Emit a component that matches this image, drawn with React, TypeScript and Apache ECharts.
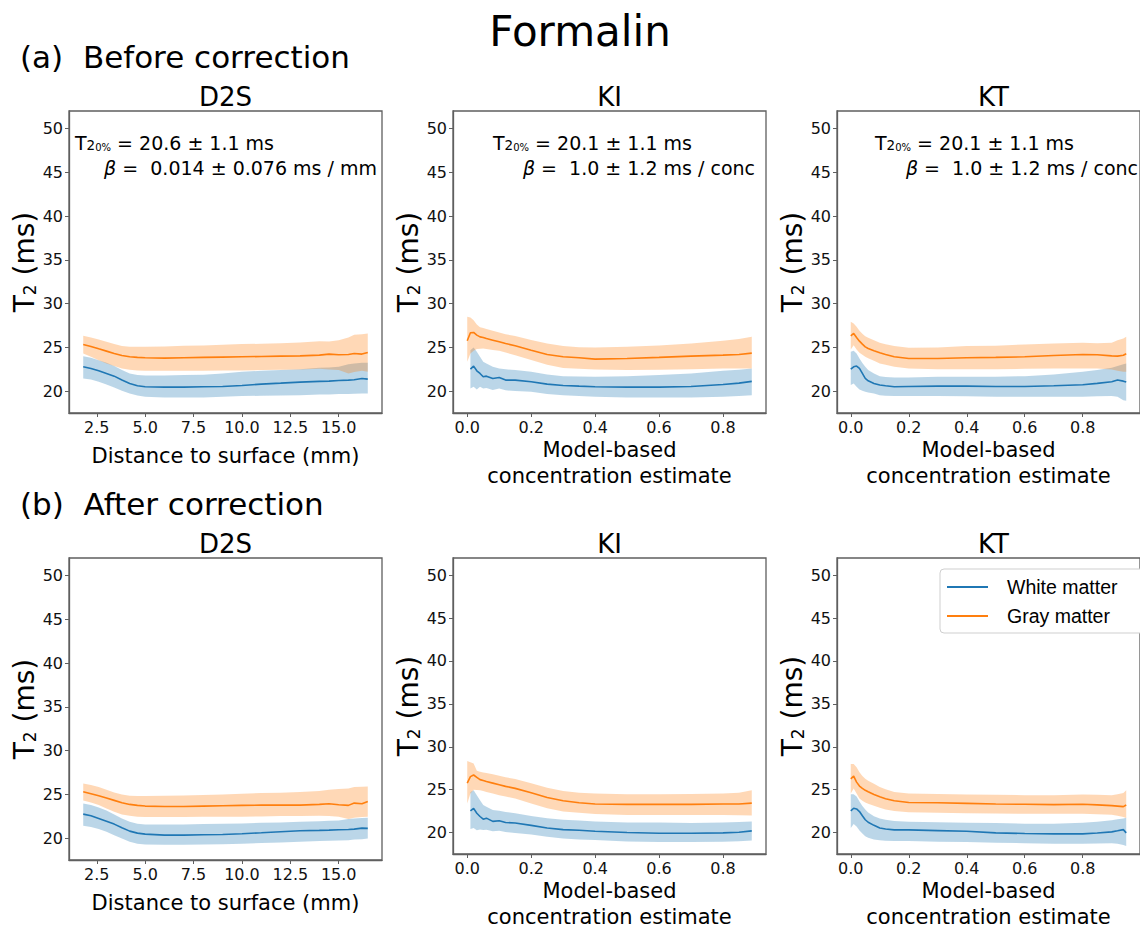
import React, { useEffect, useRef } from "react";
import * as echarts from "echarts";

const FONT = "DejaVu Sans";
const WM_COLOR = "#1f77b4";
const GM_COLOR = "#ff7f0e";
const WM_BAND = "rgba(31,119,180,0.3)";
const GM_BAND = "rgba(255,127,14,0.3)";

// ---------- x positions ----------
const D2S_X = [1.8, 2.2, 2.6, 3.0, 3.4, 3.8, 4.2, 4.6, 5.0, 6.0, 7.0, 8.0, 9.0, 10.0, 11.0, 12.0, 13.0, 14.0, 14.5, 15.0, 15.5, 15.8, 16.2, 16.5];
const KI_X = [0, 0.01, 0.02, 0.03, 0.04, 0.05, 0.06, 0.08, 0.1, 0.12, 0.15, 0.2, 0.25, 0.3, 0.35, 0.4, 0.5, 0.6, 0.7, 0.8, 0.85, 0.89];
const KT_X = [0, 0.01, 0.02, 0.03, 0.04, 0.05, 0.06, 0.08, 0.1, 0.12, 0.15, 0.2, 0.3, 0.4, 0.5, 0.6, 0.7, 0.8, 0.85, 0.9, 0.92, 0.94, 0.95];

// ---------- (a) Before correction ----------
const A_D2S_GM_MEAN = [25.33, 25.10, 24.83, 24.57, 24.30, 24.07, 23.92, 23.85, 23.81, 23.77, 23.81, 23.85, 23.88, 23.92, 23.96, 24.00, 24.03, 24.11, 24.23, 24.15, 24.19, 24.30, 24.23, 24.42];
const A_D2S_GM_HI = [26.32, 26.13, 25.90, 25.63, 25.37, 25.14, 25.06, 25.06, 25.06, 25.10, 25.18, 25.22, 25.29, 25.37, 25.41, 25.48, 25.56, 25.71, 25.67, 25.82, 26.13, 26.43, 26.51, 26.59];
const A_D2S_GM_LO = [24.30, 23.92, 23.54, 23.16, 22.86, 22.59, 22.44, 22.36, 22.32, 22.32, 22.32, 22.32, 22.36, 22.36, 22.40, 22.44, 22.48, 22.55, 22.48, 22.40, 22.02, 22.17, 22.32, 22.21];
const A_D2S_WM_MEAN = [22.78, 22.59, 22.32, 22.02, 21.71, 21.26, 20.88, 20.61, 20.50, 20.46, 20.46, 20.50, 20.53, 20.65, 20.80, 20.91, 21.03, 21.11, 21.14, 21.22, 21.26, 21.30, 21.45, 21.37];
const A_D2S_WM_HI = [23.99, 23.81, 23.54, 23.24, 22.86, 22.40, 22.02, 21.83, 21.79, 21.79, 21.83, 21.87, 22.02, 22.21, 22.32, 22.40, 22.51, 22.67, 22.70, 22.78, 23.08, 23.16, 23.24, 23.24];
const A_D2S_WM_LO = [21.45, 21.33, 21.07, 20.76, 20.42, 20.04, 19.74, 19.51, 19.36, 19.28, 19.28, 19.28, 19.36, 19.43, 19.47, 19.51, 19.54, 19.62, 19.62, 19.66, 19.66, 19.70, 19.74, 19.74];

const A_KI_GM_MEAN = [25.75, 26.66, 26.70, 26.40, 26.20, 26.13, 26.00, 25.82, 25.63, 25.44, 25.18, 24.68, 24.19, 23.92, 23.81, 23.66, 23.73, 23.85, 24.00, 24.11, 24.19, 24.34];
const A_KI_GM_HI = [28.50, 28.40, 28.10, 27.60, 27.30, 27.20, 27.10, 26.90, 26.70, 26.50, 26.30, 25.85, 25.45, 25.15, 25.00, 24.97, 25.06, 25.22, 25.44, 25.75, 25.95, 26.20];
const A_KI_GM_LO = [23.35, 24.30, 24.60, 24.80, 24.85, 24.87, 24.80, 24.70, 24.60, 24.40, 24.10, 23.55, 23.00, 22.65, 22.55, 22.48, 22.40, 22.45, 22.51, 22.59, 22.59, 22.59];
const A_KI_WM_MEAN = [null, 22.51, 22.86, 22.32, 22.02, 21.64, 21.71, 21.45, 21.56, 21.26, 21.26, 21.07, 20.80, 20.65, 20.57, 20.50, 20.46, 20.46, 20.53, 20.76, 20.91, 21.11];
const A_KI_WM_HI = [null, 24.68, 24.99, 24.49, 23.92, 23.35, 23.16, 22.78, 22.59, 22.50, 22.40, 22.21, 21.90, 21.71, 21.66, 21.64, 21.70, 21.83, 22.02, 22.32, 22.45, 22.59];
const A_KI_WM_LO = [null, 20.31, 20.50, 20.19, 20.50, 20.31, 20.35, 20.12, 20.30, 20.10, 20.00, 19.93, 19.66, 19.54, 19.45, 19.36, 19.28, 19.28, 19.28, 19.36, 19.45, 19.54];

const A_KT_GM_MEAN = [26.32, 26.59, 26.13, 25.71, 25.37, 25.06, 24.87, 24.61, 24.38, 24.19, 23.92, 23.73, 23.73, 23.81, 23.85, 23.92, 24.07, 24.19, 24.15, 24.03, 24.00, 24.10, 24.26];
const A_KT_GM_HI = [27.92, 27.73, 27.35, 26.89, 26.55, 26.28, 26.10, 25.82, 25.52, 25.35, 25.14, 24.95, 24.99, 25.14, 25.18, 25.33, 25.44, 25.52, 25.48, 25.52, 25.82, 26.00, 26.20];
const A_KT_GM_LO = [24.76, 25.25, 24.76, 24.38, 24.15, 23.92, 23.75, 23.46, 23.16, 23.00, 22.78, 22.59, 22.51, 22.51, 22.51, 22.55, 22.59, 22.59, 22.59, 22.48, 22.32, 22.21, 22.21];
const A_KT_WM_MEAN = [22.51, 22.78, 22.86, 22.59, 22.02, 21.45, 21.18, 20.88, 20.69, 20.61, 20.50, 20.53, 20.57, 20.57, 20.53, 20.53, 20.61, 20.72, 20.88, 21.07, 21.26, 21.14, 21.03];
const A_KT_WM_HI = [24.49, 24.61, 24.30, 23.73, 23.20, 22.78, 22.40, 22.02, 21.71, 21.62, 21.56, 21.56, 21.64, 21.64, 21.64, 21.71, 21.90, 22.21, 22.40, 22.67, 22.86, 23.08, 23.16];
const A_KT_WM_LO = [20.69, 20.88, 20.50, 20.19, 20.05, 19.93, 19.85, 19.74, 19.54, 19.48, 19.43, 19.43, 19.43, 19.40, 19.36, 19.36, 19.36, 19.36, 19.40, 19.43, 19.36, 18.97, 18.90];

// ---------- (b) After correction ----------
const B_D2S_GM_MEAN = [25.30, 25.07, 24.84, 24.58, 24.31, 24.04, 23.85, 23.74, 23.66, 23.62, 23.62, 23.66, 23.70, 23.74, 23.77, 23.77, 23.77, 23.85, 23.93, 23.81, 23.74, 24.00, 23.93, 24.19];
const B_D2S_GM_HI = [26.25, 26.06, 25.83, 25.53, 25.22, 24.99, 24.84, 24.80, 24.80, 24.84, 24.88, 24.92, 24.99, 25.07, 25.15, 25.18, 25.26, 25.38, 25.53, 25.60, 25.68, 25.83, 25.87, 25.91];
const B_D2S_GM_LO = [24.31, 24.08, 23.77, 23.39, 23.01, 22.71, 22.55, 22.44, 22.40, 22.40, 22.40, 22.44, 22.44, 22.44, 22.48, 22.52, 22.52, 22.55, 22.52, 22.44, 22.17, 22.33, 22.40, 22.44];
const B_D2S_WM_MEAN = [22.74, 22.55, 22.25, 21.94, 21.60, 21.18, 20.80, 20.57, 20.46, 20.34, 20.34, 20.38, 20.42, 20.50, 20.61, 20.73, 20.84, 20.88, 20.91, 20.95, 20.99, 21.03, 21.14, 21.11];
const B_D2S_WM_HI = [23.96, 23.77, 23.51, 23.16, 22.71, 22.25, 21.87, 21.64, 21.56, 21.56, 21.56, 21.60, 21.64, 21.68, 21.75, 21.79, 21.87, 21.94, 21.98, 22.02, 22.17, 22.25, 22.29, 22.33];
const B_D2S_WM_LO = [21.41, 21.26, 21.03, 20.73, 20.34, 19.96, 19.58, 19.35, 19.27, 19.24, 19.24, 19.27, 19.31, 19.35, 19.43, 19.50, 19.58, 19.66, 19.69, 19.73, 19.77, 19.85, 19.88, 19.96];

const B_KI_GM_MEAN = [25.76, 26.52, 26.71, 26.44, 26.17, 26.06, 25.95, 25.76, 25.57, 25.38, 25.15, 24.65, 24.08, 23.70, 23.47, 23.32, 23.28, 23.28, 23.28, 23.32, 23.32, 23.43];
const B_KI_GM_HI = [28.35, 28.20, 28.05, 27.20, 27.10, 27.00, 26.95, 26.80, 26.63, 26.45, 26.25, 25.76, 25.22, 24.84, 24.65, 24.54, 24.46, 24.46, 24.50, 24.54, 24.65, 24.92];
const B_KI_GM_LO = [23.40, 24.54, 25.00, 24.95, 24.92, 24.85, 24.73, 24.55, 24.35, 24.20, 23.96, 23.39, 22.82, 22.44, 22.30, 22.17, 22.06, 22.06, 22.06, 22.06, 22.02, 21.98];
const B_KI_WM_MEAN = [null, 22.52, 22.82, 22.25, 21.87, 21.56, 21.68, 21.30, 21.37, 21.18, 21.11, 20.84, 20.53, 20.34, 20.27, 20.15, 20.00, 19.92, 19.92, 19.96, 20.04, 20.19];
const B_KI_WM_HI = [null, 24.73, 24.92, 24.35, 23.77, 23.20, 23.01, 22.63, 22.55, 22.40, 22.25, 21.94, 21.68, 21.49, 21.40, 21.30, 21.18, 21.18, 21.11, 21.18, 21.22, 21.30];
const B_KI_WM_LO = [null, 20.42, 20.53, 20.27, 20.35, 20.30, 20.32, 20.15, 20.20, 20.05, 19.96, 19.77, 19.50, 19.31, 19.20, 19.12, 18.97, 18.89, 18.89, 18.93, 19.00, 19.08];

const B_KT_GM_MEAN = [26.26, 26.57, 25.88, 25.42, 25.15, 24.92, 24.75, 24.43, 24.16, 23.95, 23.70, 23.51, 23.48, 23.40, 23.32, 23.29, 23.25, 23.29, 23.22, 23.14, 23.08, 23.02, 23.21];
const B_KT_GM_HI = [27.98, 27.98, 27.60, 27.03, 26.60, 26.26, 26.05, 25.69, 25.31, 25.05, 24.74, 24.55, 24.50, 24.43, 24.40, 24.36, 24.36, 24.43, 24.40, 24.36, 24.45, 24.60, 24.92];
const B_KT_GM_LO = [24.55, 25.12, 24.55, 23.97, 23.70, 23.51, 23.35, 23.13, 22.90, 22.70, 22.52, 22.37, 22.30, 22.26, 22.22, 22.18, 22.18, 22.18, 22.12, 22.07, 21.95, 21.80, 21.69];
const B_KT_WM_MEAN = [22.52, 22.83, 22.75, 22.45, 21.95, 21.49, 21.20, 20.84, 20.54, 20.42, 20.31, 20.31, 20.23, 20.15, 19.96, 19.89, 19.85, 19.85, 19.95, 20.08, 20.20, 20.34, 19.96];
const B_KT_WM_HI = [24.47, 24.47, 24.20, 23.63, 23.10, 22.68, 22.35, 21.91, 21.64, 21.50, 21.34, 21.26, 21.20, 21.15, 21.10, 21.03, 21.03, 21.15, 21.25, 21.42, 21.55, 21.65, 21.72];
const B_KT_WM_LO = [20.54, 21.00, 20.70, 20.23, 19.90, 19.58, 19.40, 19.20, 19.09, 19.05, 19.01, 19.01, 18.94, 18.90, 18.82, 18.76, 18.70, 18.70, 18.72, 18.75, 18.70, 18.55, 18.44];

// ---------- axes / labels ----------
const Y_TICKS = [20, 25, 30, 35, 40, 45, 50];
const D2S_TICKS = [2.5, 5.0, 7.5, 10.0, 12.5, 15.0];
const CONC_TICKS = [0.0, 0.2, 0.4, 0.6, 0.8];
const PANEL_TITLES = ["D2S", "KI", "KT"];
const X_LABELS = ["Distance to surface (mm)", "Model-based\nconcentration estimate", "Model-based\nconcentration estimate"];
const T2_VALUES = ["20.6 ± 1.1 ms", "20.1 ± 1.1 ms", "20.1 ± 1.1 ms"];
const BETA_VALUES = ["0.014 ± 0.076 ms / mm", "1.0 ± 1.2 ms / conc", "1.0 ± 1.2 ms / conc"];
const LEGEND_NAMES = ["White matter", "Gray matter"];

const PANELS = [
  { x: D2S_X, gm: [A_D2S_GM_MEAN, A_D2S_GM_LO, A_D2S_GM_HI], wm: [A_D2S_WM_MEAN, A_D2S_WM_LO, A_D2S_WM_HI] },
  { x: KI_X, gm: [A_KI_GM_MEAN, A_KI_GM_LO, A_KI_GM_HI], wm: [A_KI_WM_MEAN, A_KI_WM_LO, A_KI_WM_HI] },
  { x: KT_X, gm: [A_KT_GM_MEAN, A_KT_GM_LO, A_KT_GM_HI], wm: [A_KT_WM_MEAN, A_KT_WM_LO, A_KT_WM_HI] },
  { x: D2S_X, gm: [B_D2S_GM_MEAN, B_D2S_GM_LO, B_D2S_GM_HI], wm: [B_D2S_WM_MEAN, B_D2S_WM_LO, B_D2S_WM_HI] },
  { x: KI_X, gm: [B_KI_GM_MEAN, B_KI_GM_LO, B_KI_GM_HI], wm: [B_KI_WM_MEAN, B_KI_WM_LO, B_KI_WM_HI] },
  { x: KT_X, gm: [B_KT_GM_MEAN, B_KT_GM_LO, B_KT_GM_HI], wm: [B_KT_WM_MEAN, B_KT_WM_LO, B_KT_WM_HI] },
];

// layout (pixels)
const GRID_LEFT = [69, 453, 837];
const GRID_TOP = [111, 558];
const GRID_W = 313;
const GRID_H = 302;
const X_RANGE = [
  [1.065, 17.235],
  [-0.0445, 0.9345],
  [-0.0475, 0.9975],
];
const X_NAME_GAP = [30, 24, 24];

function buildOption() {
  const grid: any[] = [];
  const xAxis: any[] = [];
  const yAxis: any[] = [];
  const series: any[] = [];
  const graphic: any[] = [];
  const spine = "#5f5f5f";

  PANELS.forEach((p, i) => {
    const col = i % 3;
    const row = Math.floor(i / 3);
    grid.push({
      left: GRID_LEFT[col],
      top: GRID_TOP[row],
      width: GRID_W,
      height: GRID_H,
      show: true,
      borderColor: spine,
      borderWidth: 1.3,
      backgroundColor: "transparent",
      containLabel: false,
    });
    const xt = col === 0 ? D2S_TICKS : CONC_TICKS;
    xAxis.push({
      gridIndex: i,
      type: "value",
      min: X_RANGE[col][0],
      max: X_RANGE[col][1],
      axisLine: { show: true, onZero: false, lineStyle: { color: spine, width: 1.3 } },
      axisTick: { show: true, length: 4, customValues: xt, lineStyle: { color: spine, width: 1 } },
      axisLabel: {
        customValues: xt,
        formatter: (v: number) => v.toFixed(1),
        fontSize: 16,
        fontFamily: FONT,
        color: "#111",
        margin: 6,
      },
      splitLine: { show: false },
      name: X_LABELS[col],
      nameLocation: "middle",
      nameGap: X_NAME_GAP[col],
      nameTextStyle: { fontSize: 21, fontFamily: FONT, color: "#000", lineHeight: 26 },
    });
    yAxis.push({
      gridIndex: i,
      type: "value",
      min: 17.5,
      max: 52,
      axisLine: { show: true, onZero: false, lineStyle: { color: spine, width: 1.3 } },
      axisTick: { show: true, length: 4, customValues: Y_TICKS, lineStyle: { color: spine, width: 1 } },
      axisLabel: {
        customValues: Y_TICKS,
        formatter: (v: number) => String(v),
        fontSize: 16,
        fontFamily: FONT,
        color: "#111",
        margin: 6,
      },
      splitLine: { show: false },
      name: "{t|T}{s|2}{t| (ms)}",
      nameLocation: "middle",
      nameGap: 30,
      nameTextStyle: {
        rich: {
          t: { fontSize: 28, fontFamily: FONT, color: "#000", lineHeight: 30, verticalAlign: "bottom" },
          s: { fontSize: 17, fontFamily: FONT, color: "#000", lineHeight: 16, verticalAlign: "bottom" },
        },
      },
    });

    const addGroup = (vals: any[], color: string, band: string, name: string, key: string) => {
      const [mean, lo, hi] = vals;
      const pts = p.x
        .map((xv: number, k: number) => [xv, mean[k], lo[k], hi[k]])
        .filter((q: any[]) => q[1] != null);
      series.push({
        type: "custom",
        name: `${key}-band-${i}`,
        xAxisIndex: i,
        yAxisIndex: i,
        coordinateSystem: "cartesian2d",
        silent: true,
        z: 1,
        data: pts.map((q) => [q[0], q[2], q[3]]),
        encode: { x: 0, y: [1, 2] },
        renderItem: (params: any, api: any) => {
          if (params.dataIndex !== 0) return null;
          const upper = pts.map((q) => api.coord([q[0], q[3]]));
          const lower = pts
            .slice()
            .reverse()
            .map((q) => api.coord([q[0], q[2]]));
          return {
            type: "polygon",
            shape: { points: upper.concat(lower) },
            style: { fill: band, stroke: null },
            silent: true,
          };
        },
      });
      series.push({
        type: "line",
        name,
        xAxisIndex: i,
        yAxisIndex: i,
        data: pts.map((q) => [q[0], q[1]]),
        symbol: "none",
        silent: true,
        lineStyle: { color, width: 1.6 },
        itemStyle: { color },
        z: 3,
      });
    };
    addGroup(p.wm, WM_COLOR, WM_BAND, LEGEND_NAMES[0], "wm");
    addGroup(p.gm, GM_COLOR, GM_BAND, LEGEND_NAMES[1], "gm");

    graphic.push({
      type: "text",
      x: GRID_LEFT[col] + GRID_W / 2,
      y: GRID_TOP[row] - 14,
      silent: true,
      style: { text: PANEL_TITLES[col], fontSize: 26, fontFamily: FONT, fill: "#000", align: "center", verticalAlign: "middle" },
    });
  });

  const annotL1X = [75, 493, 875];
  const annotL2X = [377, 755, 1138];
  const richBase = {
    t: { fontSize: 19, fontFamily: FONT, fill: "#000", lineHeight: 26, verticalAlign: "bottom" },
    s: { fontSize: 13.5, fontFamily: FONT, fill: "#000", lineHeight: 13, verticalAlign: "bottom" },
    ss: { fontSize: 10, fontFamily: FONT, fill: "#000", lineHeight: 7, verticalAlign: "bottom" },
    b: { fontSize: 19, fontFamily: FONT, fill: "#000", fontStyle: "italic", lineHeight: 26, verticalAlign: "bottom" },
  };
  for (let c = 0; c < 3; c++) {
    graphic.push({
      type: "text",
      x: annotL1X[c],
      y: 139,
      silent: true,
      style: {
        text: `{t|T}{s|2}{ss|0%}{t| = ${T2_VALUES[c]}}`,
        rich: richBase,
        align: "left",
        verticalAlign: "middle",
      },
    });
    graphic.push({
      type: "text",
      x: annotL2X[c],
      y: 164,
      silent: true,
      style: {
        text: `{b|β}{t| =  ${BETA_VALUES[c]}}`,
        rich: richBase,
        align: "right",
        verticalAlign: "middle",
      },
    });
  }

  graphic.push({
    type: "text",
    x: 580,
    y: 31,
    silent: true,
    style: { text: "Formalin", fontSize: 42, fontFamily: FONT, fill: "#000", align: "center", verticalAlign: "middle" },
  });
  graphic.push({
    type: "text",
    x: 20,
    y: 57,
    silent: true,
    style: { text: "(a)  Before correction", fontSize: 31, fontFamily: FONT, fill: "#000", align: "left", verticalAlign: "middle" },
  });
  graphic.push({
    type: "text",
    x: 20,
    y: 504,
    silent: true,
    style: { text: "(b)  After correction", fontSize: 31, fontFamily: FONT, fill: "#000", align: "left", verticalAlign: "middle" },
  });

  return {
    animation: false,
    backgroundColor: "#ffffff",
    grid,
    xAxis,
    yAxis,
    series,
    graphic,
    legend: {
      data: LEGEND_NAMES,
      orient: "vertical",
      left: 940,
      top: 569,
      selectedMode: false,
      icon: "rect",
      backgroundColor: "#ffffff",
      borderColor: "#cfcfcf",
      borderWidth: 1,
      borderRadius: 4,
      padding: [8, 40, 7, 7],
      itemWidth: 41,
      itemHeight: 2,
      itemGap: 9,
      textStyle: {
        fontSize: 19.5,
        fontFamily: "Liberation Sans",
        color: "#000",
        lineHeight: 20,
        padding: [0, 0, 0, 14],
      },
    },
  };
}

export default function App() {
  const ref = useRef<HTMLDivElement>(null);
  useEffect(() => {
    if (!ref.current) return;
    const chart = echarts.init(ref.current, null, { renderer: "svg" });
    chart.setOption(buildOption() as any);
    return () => chart.dispose();
  }, []);
  return (
    <div
      ref={ref}
      style={{ position: "fixed", left: 0, top: 0, width: 1140, height: 931, background: "#fff" }}
    />
  );
}
